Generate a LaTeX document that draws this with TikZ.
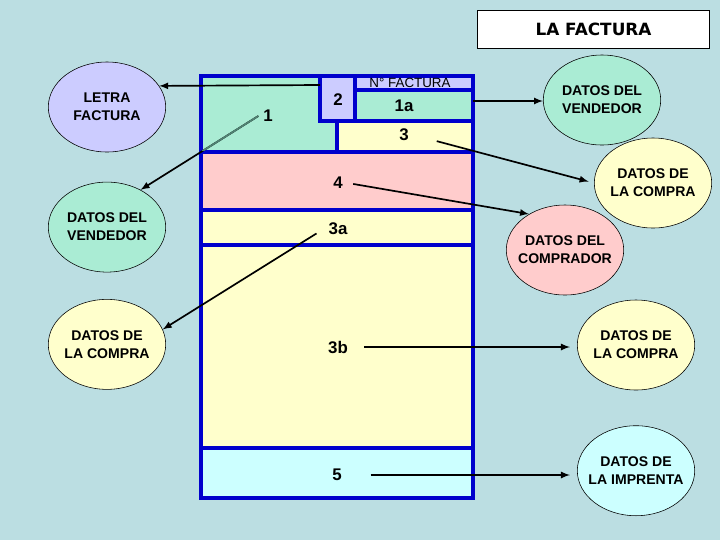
\documentclass[tikz,border=0pt]{standalone}
\usepackage{fontspec}
\setmainfont{Liberation Sans}
\newfontfamily\titlefont{DejaVu Sans}
\usepackage{tikz}
\usetikzlibrary{arrows}
\usetikzlibrary{positioning}
\usetikzlibrary{shapes.geometric}
\definecolor{fondo}{RGB}{187,222,226}
\definecolor{verde}{RGB}{170,236,212}
\definecolor{lila}{RGB}{204,204,255}
\definecolor{amarillo}{RGB}{255,255,204}
\definecolor{rosa}{RGB}{255,204,204}
\definecolor{celeste}{RGB}{204,255,255}
\definecolor{azul}{RGB}{0,0,204}
\definecolor{gristeal}{RGB}{80,130,115}
\begin{document}
\begin{tikzpicture}[x=0.025cm,y=-0.025cm,node distance=20pt,
  elip/.style={draw,ellipse,thin,minimum width=83.5pt,minimum height=64pt,inner sep=0pt},
  txt/.style={align=center,font=\bfseries\fontsize{10}{12.8}\selectfont},
  zona/.style={fill=#1,draw=azul,line width=2.2pt},
  num/.style={font=\bfseries\fontsize{12}{14}\selectfont},
  flecha/.style={-latex,line width=1.2pt}]
  \fill[fondo] (0,0) rectangle (720,540);

  \draw[zona=verde] (201,76) rectangle (337,152);
  \draw[zona=lila] (320,76) rectangle (355,121);
  \draw[zona=lila] (355,76) rectangle (473,90);
  \draw[zona=verde] (355,90) rectangle (473,121);
  \draw[zona=amarillo] (337,121) rectangle (473,152);
  \draw[zona=rosa] (201,152) rectangle (473,210);
  \draw[zona=amarillo] (201,210) rectangle (473,245);
  \draw[zona=amarillo] (201,245) rectangle (473,448);
  \draw[zona=celeste] (201,448) rectangle (473,498);

  \node[num] (r1) at (268,116) {1};
  \node[num] (r2) at (338,100) {2};
  \node[font=\fontsize{9.5}{11}\selectfont,inner sep=0pt] (nfac) at (410,83) {N° FACTURA};
  \node[num] (r1a) at (404,106) {1a};
  \node[num] (r3) at (404,135) {3};
  \node[num] (r4) at (338,183) {4};
  \node[num] (r3a) at (338,229) {3a};
  \node[num] (r3b) at (338,347) {3b};
  \node[num] (r5) at (337,475) {5};

  \node[elip,fill=lila,label={[txt]center:LETRA\\FACTURA}] (letra) at (107,107) {};
  \node[elip,fill=verde,below=21pt of letra,label={[txt]center:DATOS DEL\\VENDEDOR}] (vend1) {};
  \node[elip,fill=amarillo,below=19pt of vend1,label={[txt]center:DATOS DE\\LA COMPRA}] (compra1) {};

  \node[elip,fill=verde,label={[txt]center:DATOS DEL\\VENDEDOR}] (vend2) at (602,100) {};
  \node[elip,fill=amarillo,label={[txt]center:DATOS DE\\LA COMPRA}] (compra2) at (653,183) {};
  \node[elip,fill=rosa,label={[txt]center:DATOS DEL\\COMPRADOR}] (compr) at (565,250) {};
  \node[elip,fill=amarillo,label={[txt]center:DATOS DE\\LA COMPRA}] (compra3) at (636,345) {};
  \node[elip,fill=celeste,below=25pt of compra3,label={[txt]center:DATOS DE\\LA IMPRENTA}] (impr) {};

  \node[draw,fill=white,thin,minimum width=165pt,minimum height=27pt,font=\titlefont\bfseries\fontsize{12}{14}\selectfont] (titulo) at (593.5,29) {LA FACTURA};

  \coordinate (f2) at (320,85);
  \coordinate (f1a) at (473,101);
  \draw[flecha] (f2) -- (letra.22);
  \draw[flecha] (r1.west) -- (vend1.48);
  \draw[flecha,shorten <=6pt] (r3a.west) -- (compra1.15);
  \draw[flecha] (f1a) -- (f1a -| vend2.west);
  \draw[flecha,shorten <=17pt,shorten >=4pt] (r3.east) -- (compra2.west);
  \draw[flecha,shorten <=4pt] (r4.east) -- (compr.135);
  \draw[flecha,shorten <=8pt,shorten >=5pt] (r3b.east) -- (r3b.east -| compra3.west);
  \draw[flecha,shorten <=17pt,shorten >=5pt] (r5.east) -- (r5.east -| impr.west);
  \begin{scope}
    \clip (202,77) rectangle (336,150);
    \draw[gristeal,line width=1.2pt] (r1.west) -- (vend1.48);
  \end{scope}
\end{tikzpicture}
\end{document}
